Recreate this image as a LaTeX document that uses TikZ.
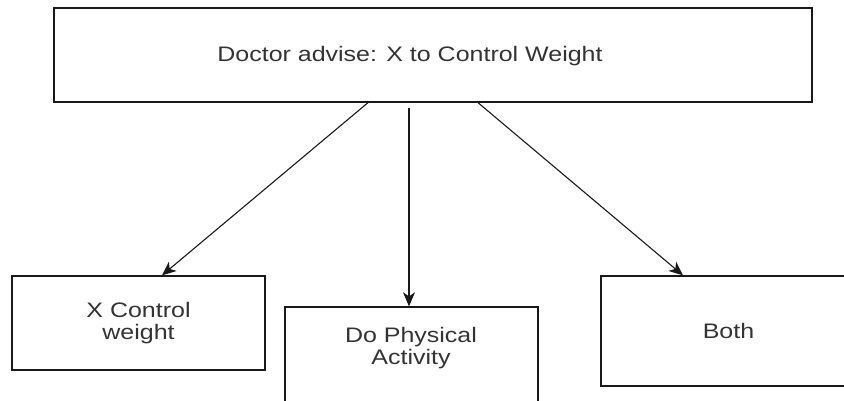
\documentclass[tikz,border=0pt]{standalone}
\usepackage{fontspec}
\usepackage{graphicx}
\setmainfont{Liberation Sans}
\usetikzlibrary{arrows.meta}
\newcommand\stx[1]{\scalebox{1.19}[1]{#1}}
\tikzset{
  box/.style={draw=black!90, line width=1.3pt, rectangle, inner sep=0pt, fill=white},
  lbl/.style={text=black!80, align=center, inner sep=0pt, font=\fontsize{21}{22}\selectfont},
  arr/.style={draw=black!90, line width=1.1pt, -{Stealth[length=14pt,width=12pt,inset=4pt]}}
}
\begin{document}
\begin{tikzpicture}[x=1pt,y=-1pt]
\useasboundingbox (0,0) rectangle (844,401);
\clip (0,0) rectangle (844,401);
\node[box, minimum width=758pt, minimum height=94pt] (top) at (433,55) {};
\node[lbl] (toptext) at (410,56) {\stx{Doctor advise: X to Control Weight}};
\node[box, minimum width=253pt, minimum height=94pt, lbl] (b1) at (138.5,323) {\stx{X Control}\\\stx{weight}};
\node[box, minimum width=253pt, minimum height=110pt] (b2) at (411.5,362) {};
\node[lbl] (b2text) at (411,348) {\stx{Do Physical}\\\stx{Activity}};
\node[box, minimum width=255pt, minimum height=110pt, lbl] (b3) at (728.5,331) {\stx{Both}};
\draw[arr] ([xshift=-65pt]top.south) -- ([xshift=23.5pt]b1.north);
\draw[arr] ([xshift=-24pt,yshift=-5pt]top.south) -- ([xshift=-2.5pt]b2.north);
\draw[arr] ([xshift=45pt]top.south) -- ([xshift=-45.5pt]b3.north);
\end{tikzpicture}
\end{document}
